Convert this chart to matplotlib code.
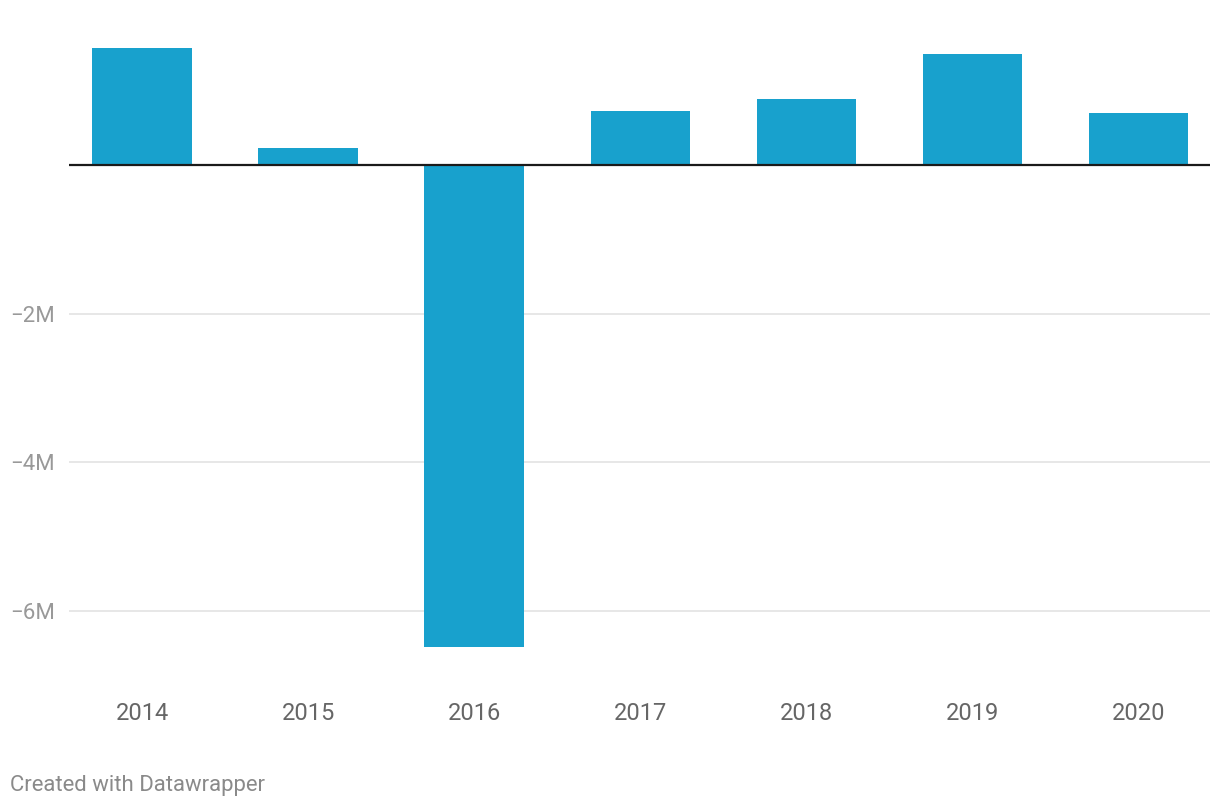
import matplotlib.pyplot as plt
import numpy as np

years = ["2014", "2015", "2016", "2017", "2018", "2019", "2020"]
values = [1.58e6, 0.23e6, -6.49e6, 0.74e6, 0.89e6, 1.50e6, 0.71e6]
yticks = [-6e6, -4e6, -2e6]
ytick_labels = ["\u22126M", "\u22124M", "\u22122M"]

plt.rcParams["font.family"] = ["Roboto", "DejaVu Sans"]

fig = plt.figure(figsize=(12.2, 8.08), dpi=100)
# axes spans the plot area in pixels: x 69..1210, y 30..670
ax = fig.add_axes([69 / 1220, 1 - 670 / 808, (1210 - 69) / 1220, 640 / 808])

x = np.arange(len(years))
ax.bar(x, values, width=0.6, color="#18a1cd", zorder=2)

# scale: zero at y=165.5, -2M at 314 (px)
px_per_unit = (314 - 165.5) / 2e6
top = (165.5 - 30) / px_per_unit
bottom = -(670 - 165.5) / px_per_unit
ax.set_ylim(bottom, top)
ax.set_xlim(-0.44, 6.43)

for t in yticks:
    ax.axhline(t, color="#e3e3e3", linewidth=1.2, zorder=1)
ax.axhline(0, color="#1a1a1a", linewidth=1.6, zorder=3)

ax.set_yticks(yticks)
ax.set_yticklabels(ytick_labels)
ax.tick_params(axis="y", length=0, pad=10, labelsize=16, labelcolor="#999999")
for lbl in ax.get_yticklabels():
    lbl.set_horizontalalignment("right")

ax.set_xticks(x)
ax.set_xticklabels(years)
ax.tick_params(axis="x", length=0, pad=23, labelsize=17, labelcolor="#666666")

for s in ax.spines.values():
    s.set_visible(False)

fig.text(10 / 1220, 1 - 785 / 808, "Created with Datawrapper", fontsize=15.9,
         color="#8a8a8a", va="center", ha="left")

fig.savefig("out.png", dpi=100)
